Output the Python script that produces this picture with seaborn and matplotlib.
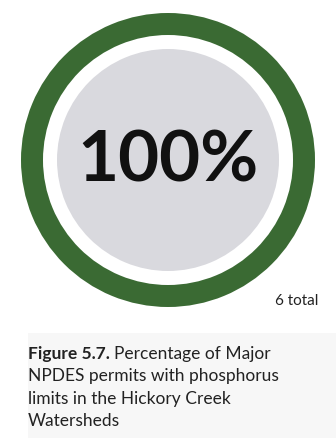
import matplotlib
matplotlib.use("Agg")
import matplotlib.pyplot as plt
import seaborn as sns
from matplotlib.patches import Rectangle

sns.set_theme(style="white")
plt.rcParams['font.family'] = ['Lato', 'DejaVu Sans']

# Data
categories = ["With phosphorus limits", "Without phosphorus limits"]
counts = [6, 0]
total_label = "6 total"
center_label = "100%"
caption_bold = "Figure 5.7."
caption_lines = ["Percentage of Major", "NPDES permits with phosphorus", "limits in the Hickory Creek", "Watersheds"]

ring_color = "#3a6a33"
inner_color = "#d9d9de"

W, H = 336, 438
fig = plt.figure(figsize=(W / 100, H / 100), dpi=100)
fig.patch.set_facecolor("white")

cx, cy, R = 168, 160, 147
ax = fig.add_axes([(cx - R) / W, (H - cy - R) / H, 2 * R / W, 2 * R / H])
ax.pie(counts, colors=[ring_color, "white"], radius=1.0, startangle=90,
       counterclock=False, wedgeprops=dict(width=22 / R, linewidth=0))
ax.pie([sum(counts)], colors=[inner_color], radius=111 / R,
       wedgeprops=dict(linewidth=0))
ax.set_xlim(-1, 1)
ax.set_ylim(-1, 1)
ax.set_aspect("equal")
ax.axis("off")
ax.text(0, -0.01, center_label, ha="center", va="center", fontsize=51,
        color="#111111", fontweight="bold")

fig.text(318 / W, 1 - 305 / H, total_label, ha="right", va="baseline",
         fontsize=11, color="#222222")

# Caption box
fig.patches.append(Rectangle((28 / W, 0), 1 - 28 / W, 1 - 333 / H,
                             transform=fig.transFigure, facecolor="#f7f7f7",
                             edgecolor="none", zorder=0))

x0 = 28 / W
y_first = 1 - 359 / H
lh = 22.3 / H
t = fig.text(x0, y_first, caption_bold + " ", fontsize=12.5, fontweight="bold",
             color="#222222", va="baseline", ha="left")
fig.canvas.draw()
bb = t.get_window_extent()
fig.text(bb.x1 / W, y_first, caption_lines[0], fontsize=12.5, color="#222222",
         va="baseline", ha="left")
for i, line in enumerate(caption_lines[1:], start=1):
    fig.text(x0, y_first - i * lh, line, fontsize=12.5, color="#222222",
             va="baseline", ha="left")

fig.savefig("out.png", dpi=100, facecolor="white")
